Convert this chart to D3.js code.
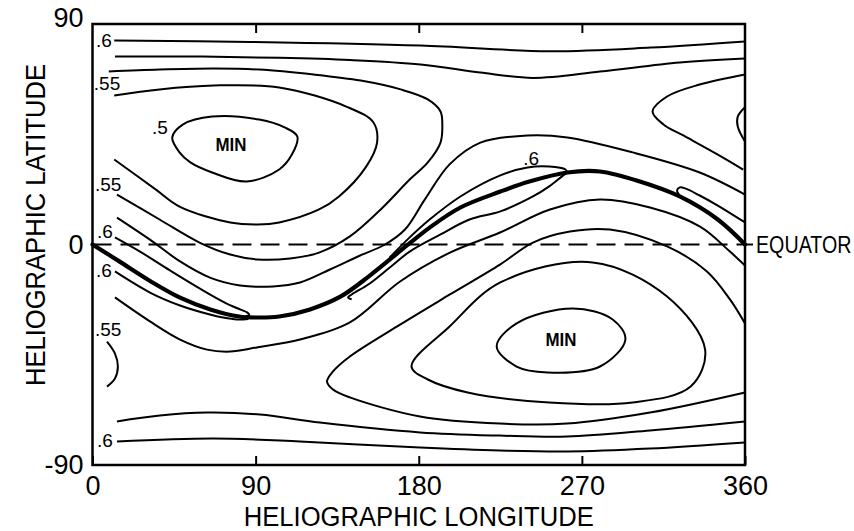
<!DOCTYPE html>
<html>
<head>
<meta charset="utf-8">
<script src="https://cdnjs.cloudflare.com/ajax/libs/d3/7.8.5/d3.min.js"></script>
<style>
  body { margin: 0; background: #fff; }
  svg { display: block; }
  text { font-family: "Liberation Sans", Arial, sans-serif; fill: #000; }
</style>
</head>
<body>
<div id="vis"></div>
<script>
const layout = {
  width: 854,
  height: 531,
  left: 92.5,
  right: 745,
  top: 24,
  bottom: 465
};

// contour lines, [longitude, latitude]
const lineTop6 = [[12,83.3],[87,82.7],[181,81.2],[252,78.9],[308,80.4],[360,82.9]];
const lineTopB = [[12.4,76.7],[59,76.7],[103,76.2],[142,75.3],[181,73.5],[214,70.2],[243,68],[280,70.6],[324,74.3],[360,75.9]];
const lineNorth55 = [[9,70.6],[37,71.4],[67,71.8],[92,71.4],[122,69.4],[148,66.9],[170,63.3],[185,59.2],[192,54.3],[193,49],
  [192,41.6],[185,33.5],[175,26.5],[159,14.3],[142,3.3],[125,-3.3],[109,-5.7],[91,-6.1],[76,-4.1],[59,0.8],[37,10.2],[13.5,20.4]];
const lineNorthInner = [[12,60.8],[37,63.3],[67,64.9],[103,64.1],[140,56.3],[155,49.8],[157,41.6],[151,31.8],[136,19.6],
  [125,14.3],[103,9],[91,8.2],[76,9],[48,15.5],[35,22.4],[12,34.7]];
const ovalNorth5 = [[44,43.7],[50,49],[66,52.2],[92,51],[106,47.8],[113,44.1],[110,36.7],[103,30.6],[85,25.7],[66,29.4],[54,33.5],[48,37.6]];
const lineRightHorse = [[360,69.4],[335,65.3],[317,60.4],[309,54.3],[315,49],[326,44.5],[345,36.7],[359,30.6]];
const lineRightArc = [[360,56],[356,52.2],[356,48.2],[360,42]];
const lineE = [[360,20.4],[335,29.4],[298,37.6],[262,43.7],[240,44.5],[214,41.6],[197,32.7],[183.4,18.4],[172.4,6.1],
  [161.4,0],[147.6,-4.5],[131,-10.2],[114.5,-15.5],[99.6,-17.1],[81.4,-16.7],[64.8,-13.5],[48.3,-6.9],[31.7,2],[13.5,11]];
const lineAboveRise = [[164,-5.3],[175,2.9],[186,10.2],[203,19.6],[225,28.2],[240,31.4],[252,31.8],[261,30.6],[262,29.4]];
const lineAboveLeft = [[12.4,2.9],[26.2,-2.9],[42.8,-10.6],[59.3,-18],[73,-23.7],[81.4,-26.5],[85.5,-27.8],[86.5,-28.8],[84.5,-29.2]];
const lineBelowLeft = [[12.4,-11],[31.7,-19.6],[48.3,-24.9],[64.8,-28.6],[72,-29.8],[79.7,-30.6],[86,-30.4]];
const lineBelowRise = [[143,-22.4],[141,-21.6],[143,-20.4],[153,-15.9],[164,-9.4],[175,-2.9],[192,4.1],[208,10.2],[225,13.5],
  [243,19.6],[252,23.7],[259,27.8],[262,29.4]];
const lineAboveRight = [[360,9],[345,15.9],[335,20],[327,22.9],[324,23.3],[322.5,22],[323.5,20.5]];
const lineArch1 = [[12.4,-21.6],[31.7,-31.4],[48.3,-38.8],[63.2,-42.9],[75.9,-43.7],[90.8,-42],[114.5,-38.8],[142,-31.8],
  [169.7,-15.1],[197.2,-3.3],[224.8,4.9],[252.4,14.3],[280,18.4],[307.6,15.1],[335.2,7.3],[351.7,-2.9],[360,-8.6]];
const lineSouthHorse = [[360,-32.2],[351.7,-22.4],[339,-11],[317,-0.8],[285.5,6.1],[263.4,5.3],[243,0.8],[224.8,-8.2],
  [197.2,-20.4],[169.7,-32.7],[142,-45.7],[132.7,-51.8],[129.4,-55.9],[132.7,-59.2],[142,-62.4],[180.7,-70.2],
  [224.8,-73.1],[261.8,-73.1],[307.6,-68.6],[360,-60.4]];
const lineLeftArc = [[8,-39.6],[12.4,-44.5],[14,-49.8],[12.4,-54.7],[8,-58]];
const ovalSouthOuter = [[176,-49.8],[197,-33.5],[225,-15.5],[276,-7.3],[317,-21.2],[338,-42.9],[330,-58],[298,-64.5],
  [252,-64.5],[207,-60.4],[185,-55.1]];
const ovalSouthInner = [[223,-41.6],[234,-32.2],[265,-26.1],[287,-30.6],[294,-38.8],[280,-49.8],[251,-52.2],[234,-49.8]];
const lineBottom1 = [[13.5,-72.2],[37.2,-69.8],[63.2,-68.6],[92.4,-69.4],[125.5,-72.7],[180.7,-76.7],[224.8,-78],
  [261.8,-78.4],[307.6,-75.9],[360,-72.2]];
const lineBottom6 = [[13.5,-80.4],[66.5,-79.2],[114.5,-80.4],[180.7,-82.9],[224.8,-84.1],[261.8,-84.5],[307.6,-83.3],[360,-80.8]];

// neutral line (thick)
const neutralLine = [[0,0],[15,-7],[32,-15],[48,-21.6],[65,-26.5],[81,-29.4],[91,-29.8],[103,-29.4],[120,-26.5],[137,-21.2],
  [153,-12.7],[173.5,-0.4],[186,6.9],[203,15.1],[225,21.6],[241,25.7],[262,29.4],[280,29.8],[302,25.7],[324,19.6],[345,10.2],[360,0]];

const openLines = [lineTop6, lineTopB, lineNorth55, lineNorthInner, lineRightHorse, lineRightArc, lineE, lineAboveRise,
  lineAboveLeft, lineBelowLeft, lineBelowRise, lineAboveRight, lineArch1, lineSouthHorse, lineLeftArc, lineBottom1, lineBottom6];
const closedLines = [ovalNorth5, ovalSouthOuter, ovalSouthInner];

// contour labels: text, longitude, latitude
const levelLabels = [[".6",6.3,83.3],[".55",8,65.7],[".5",37.2,47.8],[".55",8.6,24.5],[".6",6.9,5.3],[".6",6.3,-10.6],
  [".55",8.6,-34.7],[".6",6.9,-80],[".6",242,35.1]];
const minLabels = [["MIN",76.4,40.8],["MIN",258.5,-38.8]];

const lonTicks = [0, 90, 180, 270, 360];
const latTicks = [-90, 0, 90];

const svg = d3.select("#vis").append("svg")
  .attr("width", layout.width)
  .attr("height", layout.height);

const x = d3.scaleLinear().domain([0, 360]).range([layout.left, layout.right]);
const y = d3.scaleLinear().domain([-90, 90]).range([layout.bottom, layout.top]);

const line = d3.line().x(d => x(d[0])).y(d => y(d[1])).curve(d3.curveCatmullRom.alpha(0.5));
const loop = d3.line().x(d => x(d[0])).y(d => y(d[1])).curve(d3.curveCatmullRomClosed.alpha(0.5));

// equator
svg.append("line")
  .attr("x1", x(0)).attr("x2", x(360) + 8)
  .attr("y1", y(0)).attr("y2", y(0))
  .attr("stroke", "#000").attr("stroke-width", 2)
  .attr("stroke-dasharray", "19,9");

svg.append("g").selectAll("path").data(openLines).join("path")
  .attr("d", line)
  .attr("fill", "none").attr("stroke", "#000").attr("stroke-width", 2);

svg.append("g").selectAll("path").data(closedLines).join("path")
  .attr("d", loop)
  .attr("fill", "none").attr("stroke", "#000").attr("stroke-width", 2);

svg.append("path").datum(neutralLine)
  .attr("d", line)
  .attr("fill", "none").attr("stroke", "#000").attr("stroke-width", 4.2)
  .attr("stroke-linecap", "round");

// frame
svg.append("rect")
  .attr("x", x(0)).attr("y", y(90))
  .attr("width", x(360) - x(0)).attr("height", y(-90) - y(90))
  .attr("fill", "none").attr("stroke", "#000").attr("stroke-width", 2.5);

// axes
let xAxis = svg.append("g")
  .attr("transform", `translate(0,${layout.bottom})`)
  .call(d3.axisBottom(x).tickValues(lonTicks).tickSize(-9).tickPadding(11).tickFormat(d3.format("d")));
let xAxisTop = svg.append("g")
  .attr("transform", `translate(0,${layout.top})`)
  .call(d3.axisTop(x).tickValues([90, 180, 270]).tickSize(-9).tickFormat(""));
let yAxis = svg.append("g")
  .attr("transform", `translate(${layout.left},0)`)
  .call(d3.axisLeft(y).tickValues(latTicks).tickSize(0).tickPadding(9).tickFormat(d => String(d)));

[xAxis, xAxisTop, yAxis].forEach(a => {
  a.select(".domain").remove();
  a.selectAll("line").attr("stroke", "#000").attr("stroke-width", 2);
  a.selectAll("text").attr("font-size", 27).attr("fill", "#000")
    .style("font-family", "'Liberation Sans', Arial, sans-serif");
});
yAxis.selectAll(".tick").filter(d => d === 90).select("text").attr("dy", "0.08em");

// titles
svg.append("text")
  .attr("x", (layout.left + layout.right) / 2).attr("y", 526)
  .attr("text-anchor", "middle")
  .attr("font-size", 27)
  .attr("textLength", 350).attr("lengthAdjust", "spacingAndGlyphs")
  .text("HELIOGRAPHIC LONGITUDE");

svg.append("text")
  .attr("transform", "translate(45,225) rotate(-90)")
  .attr("text-anchor", "middle")
  .attr("font-size", 27)
  .attr("textLength", 322).attr("lengthAdjust", "spacingAndGlyphs")
  .text("HELIOGRAPHIC LATITUDE");

svg.append("text")
  .attr("transform", `translate(756,${y(0)}) scale(0.82,1)`)
  .attr("dominant-baseline", "central")
  .attr("font-size", 24)
  .text("EQUATOR");

// contour labels
svg.append("g").selectAll("text").data(levelLabels).join("text")
  .attr("x", d => x(d[1])).attr("y", d => y(d[2]))
  .attr("text-anchor", "middle").attr("dominant-baseline", "central")
  .attr("font-size", 19)
  .text(d => d[0]);

svg.append("g").selectAll("text").data(minLabels).join("text")
  .attr("x", d => x(d[1])).attr("y", d => y(d[2]))
  .attr("text-anchor", "middle").attr("dominant-baseline", "central")
  .attr("font-size", 18).attr("font-weight", "bold")
  .attr("textLength", 31).attr("lengthAdjust", "spacingAndGlyphs")
  .text(d => d[0]);
</script>
</body>
</html>
